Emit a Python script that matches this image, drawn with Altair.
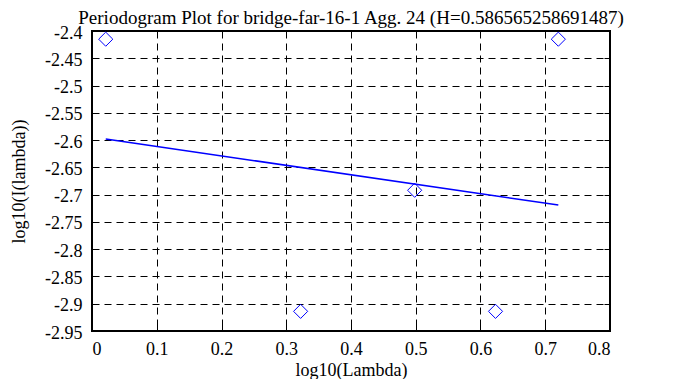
import altair as alt
import pandas as pd

# Periodogram points (log10 lambda, log10 I(lambda))
log_lambda = [0.0212, 0.3222, 0.4983, 0.6232, 0.7202]
log_I = [-2.415, -2.914, -2.692, -2.914, -2.415]

# Least-squares fit line end points
fit_x = [0.0212, 0.7202]
fit_y = [-2.598, -2.719]

x_ticks = [0, 0.1, 0.2, 0.3, 0.4, 0.5, 0.6, 0.7, 0.8]
y_ticks = [-2.95, -2.9, -2.85, -2.8, -2.75, -2.7, -2.65, -2.6, -2.55, -2.5, -2.45, -2.4]

pts = pd.DataFrame({"x": log_lambda, "y": log_I})
fit = pd.DataFrame({"x": fit_x, "y": fit_y})

FONT = "Liberation Serif"
xs = alt.Scale(domain=[0, 0.8], nice=False, zero=False)
ys = alt.Scale(domain=[-2.95, -2.4], nice=False, zero=False)

lbl = "'' + datum.value"

main_x = alt.Axis(orient="bottom", values=x_ticks, labelExpr=lbl, grid=True,
                  gridDash=[7, 5], gridColor="black", gridOpacity=1, gridWidth=1,
                  ticks=False, domain=False, labelPadding=9, labelFont=FONT,
                  labelFontSize=18, labelColor="black", title="log10(Lambda)",
                  titleFont=FONT, titleFontSize=18, titleFontWeight="normal",
                  titleColor="black", titlePadding=3)
main_y = alt.Axis(orient="left", values=y_ticks, labelExpr=lbl, grid=True,
                  gridDash=[7, 5], gridColor="black", gridOpacity=1, gridWidth=1,
                  ticks=False, domain=False, labelPadding=10, labelOffset=2,
                  labelFont=FONT, labelFontSize=18, labelColor="black",
                  title="log10(I(lambda))", titleFont=FONT, titleFontSize=18,
                  titleFontWeight="normal", titleColor="black", titlePadding=16)


def tick_axis(orient, vals):
    return alt.Axis(orient=orient, values=vals, labels=False, title=None, grid=False,
                    domain=False, ticks=True, tickSize=6, tickColor="black",
                    tickWidth=1, offset=-6)


points = alt.Chart(pts).mark_point(shape="diamond", size=200, color="#0000ff",
                                   strokeWidth=1, filled=False, opacity=1).encode(
    x=alt.X("x:Q", scale=xs, axis=main_x),
    y=alt.Y("y:Q", scale=ys, axis=main_y),
)

line = alt.Chart(fit).mark_line(color="#0000ff", strokeWidth=1.5).encode(
    x=alt.X("x:Q", scale=xs, axis=tick_axis("bottom", x_ticks)),
    y=alt.Y("y:Q", scale=ys, axis=tick_axis("left", y_ticks)),
)

ghost = alt.Chart(pts).mark_point(opacity=0).encode(
    x=alt.X("x:Q", scale=xs, axis=tick_axis("top", x_ticks)),
    y=alt.Y("y:Q", scale=ys, axis=tick_axis("right", y_ticks)),
)

chart = alt.layer(line, points, ghost).resolve_axis(
    x="independent", y="independent"
).properties(
    width=518,
    height=300,
    title=alt.TitleParams("Periodogram Plot for bridge-far-16-1 Agg. 24 (H=0.586565258691487)",
                          font=FONT, fontSize=19, fontWeight="normal", color="black",
                          anchor="middle", offset=0, dy=4),
    autosize=alt.AutoSizeParams(type="none"),
    padding={"left": 84, "top": 23, "right": 70, "bottom": 48},
).configure(font=FONT).configure_axis(
    labelFont=FONT, titleFont=FONT
).configure_title(font=FONT).configure_view(stroke="black", strokeWidth=2)

chart.save("out.html", embed_options={"renderer": "svg", "actions": False})
